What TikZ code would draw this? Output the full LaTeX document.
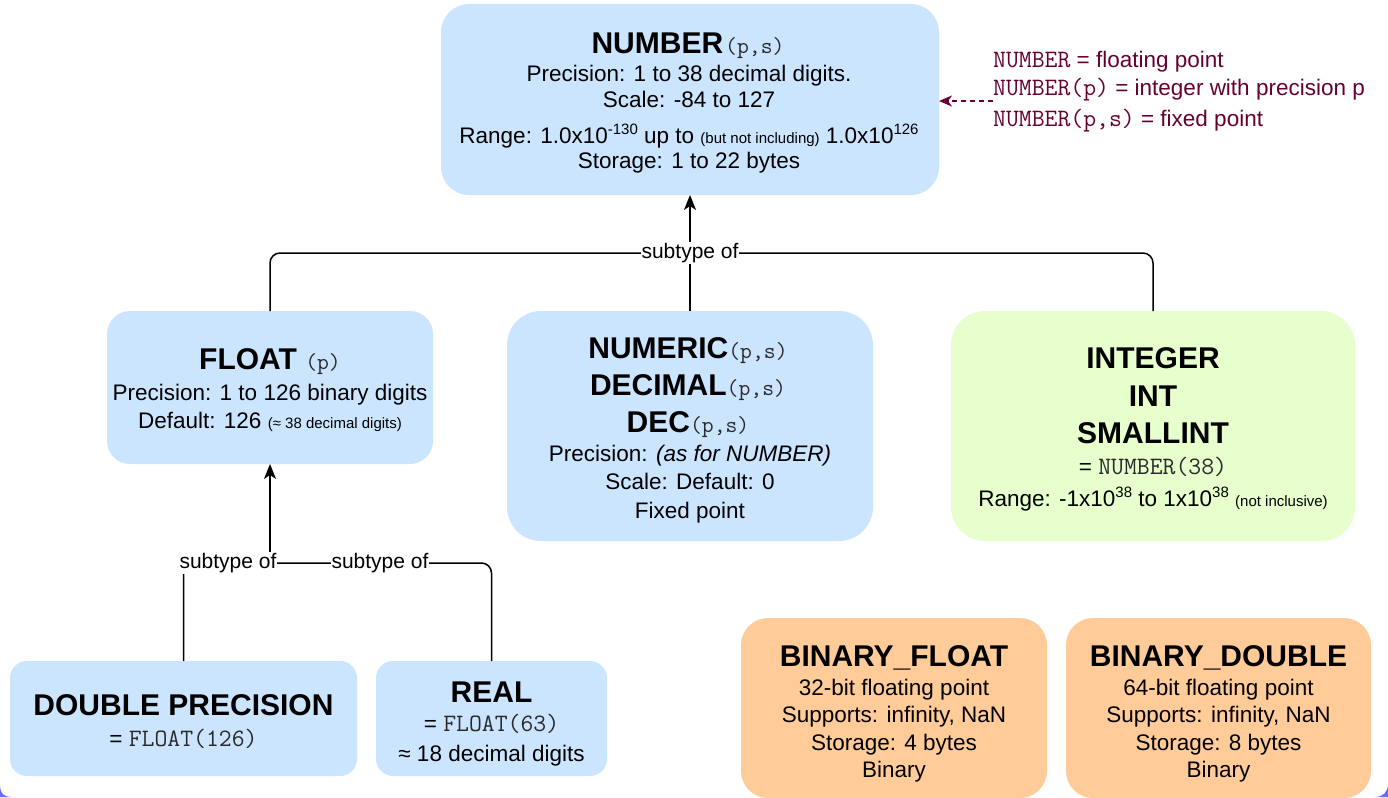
\documentclass[tikz,border=0pt]{standalone}
\usepackage{fontspec}
\setmainfont{Liberation Sans}
\usetikzlibrary{arrows.meta}
\definecolor{boxblue}{HTML}{CCE5FF}
\definecolor{boxgreen}{HTML}{E6FFCC}
\definecolor{boxorange}{HTML}{FFCC99}
\definecolor{annmaroon}{HTML}{660033}
\definecolor{framepurple}{HTML}{6A6AFF}
\definecolor{monogray}{HTML}{2A2A2A}
\newcommand\fsz[1]{\fontsize{#1}{#1}\selectfont}
\newcommand\sml[1]{{\fsz{15}#1}}
\newcommand\sups[1]{\raisebox{9pt}{\fsz{15}#1}}
\newcommand\tmono[1]{{\fsz{23}\mdseries\ttfamily\color{monogray}#1}}
\newcommand\bmono[1]{{\fsz{25}\ttfamily\color{monogray}#1}}
\newcommand\amono[1]{{\fsz{25}\ttfamily #1}}
\begin{document}
\begin{tikzpicture}[x=1pt,y=-1pt,
  boxbase/.style={rectangle, draw=none, inner sep=0, outer sep=0},
  bluebox/.style={boxbase, fill=boxblue},
  greenbox/.style={boxbase, fill=boxgreen},
  orangebox/.style={boxbase, fill=boxorange},
  txt/.style={anchor=base, inner sep=0, font=\fsz{22.5}},
  ttl/.style={anchor=base, inner sep=0, font=\fsz{30}\bfseries},
  anntxt/.style={anchor=base west, inner sep=0, font=\fsz{22.5}, text=annmaroon},
  conn/.style={draw=black, line width=1.5pt, rounded corners=10pt},
  arrowup/.style={-{Stealth[length=15pt,width=12pt,inset=4pt]}},
  lbl/.style={fill=white, inner sep=1pt, font=\fsz{21}}
]
\useasboundingbox (0,0) rectangle (1388,797);
\fill[white] (0,0) rectangle (1388,797);

% boxes
\node[bluebox, minimum width=498, minimum height=191, rounded corners=28pt] (num) at (690,99.5) {};
\node[bluebox, minimum width=326, minimum height=153, rounded corners=23pt] (flt) at (270,387.5) {};
\node[bluebox, minimum width=366, minimum height=230, rounded corners=34pt] (nmc) at (690,426) {};
\node[greenbox, minimum width=404, minimum height=230, rounded corners=34pt] (int) at (1153,426) {};
\node[bluebox, minimum width=347, minimum height=115, rounded corners=17pt] (dbl) at (183.5,718.5) {};
\node[bluebox, minimum width=231, minimum height=115, rounded corners=17pt] (real) at (491.5,718.5) {};
\node[orangebox, minimum width=306, minimum height=180, rounded corners=27pt] (bf) at (894,708) {};
\node[orangebox, minimum width=305, minimum height=180, rounded corners=27pt] (bd) at (1218.5,708) {};

% NUMBER
\node[ttl] (num-t) at (688,54) {NUMBER\hspace{2pt}\tmono{(p,s)}};
\node[txt] (num-l1) at (689,82) {Precision: 1 to 38 decimal digits.};
\node[txt] (num-l2) at (689,108) {Scale: -84 to 127};
\node[txt] (num-l3) at (689,143) {Range: 1.0x10\sups{-130} up to \sml{(but not including)} 1.0x10\sups{126}};
\node[txt] (num-l4) at (689,168) {Storage: 1 to 22 bytes};

% FLOAT
\node[ttl] (flt-t) at (270,369) {FLOAT \tmono{(p)}};
\node[txt] (flt-l1) at (270,400) {Precision: 1 to 126 binary digits};
\node[txt] (flt-l2) at (270,428) {Default: 126 \sml{(≈ 38 decimal digits)}};

% NUMERIC
\node[ttl] (nmc-t1) at (688,358) {NUMERIC\tmono{(p,s)}};
\node[ttl] (nmc-t2) at (688,395) {DECIMAL\tmono{(p,s)}};
\node[ttl] (nmc-t3) at (688,432) {DEC\tmono{(p,s)}};
\node[txt] (nmc-l1) at (690,461) {Precision: \textit{(as for NUMBER)}};
\node[txt] (nmc-l2) at (690,489) {Scale: Default: 0};
\node[txt] (nmc-l3) at (690,518) {Fixed point};

% INTEGER
\node[ttl] (int-t1) at (1153,368) {INTEGER};
\node[ttl] (int-t2) at (1153,406) {INT};
\node[ttl] (int-t3) at (1153,443) {SMALLINT};
\node[txt] (int-l1) at (1153,474) {= \bmono{NUMBER(38)}};
\node[txt] (int-l2) at (1153,506) {Range: -1x10\sups{38} to 1x10\sups{38} \sml{(not inclusive)}};

% DOUBLE PRECISION
\node[ttl] (dbl-t) at (183.5,715) {DOUBLE PRECISION};
\node[txt] (dbl-l1) at (183.5,746) {= \bmono{FLOAT(126)}};

% REAL
\node[ttl] (real-t) at (491.5,702) {REAL};
\node[txt] (real-l1) at (491.5,731) {= \bmono{FLOAT(63)}};
\node[txt] (real-l2) at (491.5,761) {≈ 18 decimal digits};

% BINARY_FLOAT
\node[ttl] (bf-t) at (894,666) {BINARY\_FLOAT};
\node[txt] (bf-l1) at (894,695) {32-bit floating point};
\node[txt] (bf-l2) at (894,722) {Supports: infinity, NaN};
\node[txt] (bf-l3) at (894,750) {Storage: 4 bytes};
\node[txt] (bf-l4) at (894,777) {Binary};

% BINARY_DOUBLE
\node[ttl] (bd-t) at (1218.5,666) {BINARY\_DOUBLE};
\node[txt] (bd-l1) at (1218.5,695) {64-bit floating point};
\node[txt] (bd-l2) at (1218.5,722) {Supports: infinity, NaN};
\node[txt] (bd-l3) at (1218.5,750) {Storage: 8 bytes};
\node[txt] (bd-l4) at (1218.5,777) {Binary};

% annotation
\node[anntxt] (ann1) at (993,68) {\amono{NUMBER} = floating point};
\node[anntxt] (ann2) at (993,96) {\amono{NUMBER(p)} = integer with precision p};
\node[anntxt] (ann3) at (993,127) {\amono{NUMBER(p,s)} = fixed point};
\coordinate (anna) at (993,101);
\draw[annmaroon, line width=1.3pt, dash pattern=on 5pt off 4pt, -{Stealth[length=13pt,width=11pt,inset=4pt]}] (anna) -- (num.east |- anna);

% upper connectors
\coordinate (j1) at (690,253);
\draw[conn] (flt.north) |- (j1);
\draw[conn] (int.north) |- (j1);
\draw[conn, arrowup] (nmc.north) -- (num.south);
\node[lbl] (st1) at (j1) {subtype of};

% lower connectors
\coordinate (j2) at (270,563);
\draw[conn] (dbl.north) |- (j2);
\draw[conn] (real.north) |- (j2);
\draw[conn, arrowup] (j2) -- (flt.south);
\node[lbl] (st2) at (228,563) {subtype of};
\node[lbl] (st3) at (380,563) {subtype of};

% frame corners
\fill[framepurple] (0,786) -- (0,797) -- (11,797) .. controls (4,797) and (0,793) .. (0,786);
\fill[framepurple] (1388,784) -- (1388,797) -- (1375,797) .. controls (1383,797) and (1388,792) .. (1388,784);
\end{tikzpicture}
\end{document}
